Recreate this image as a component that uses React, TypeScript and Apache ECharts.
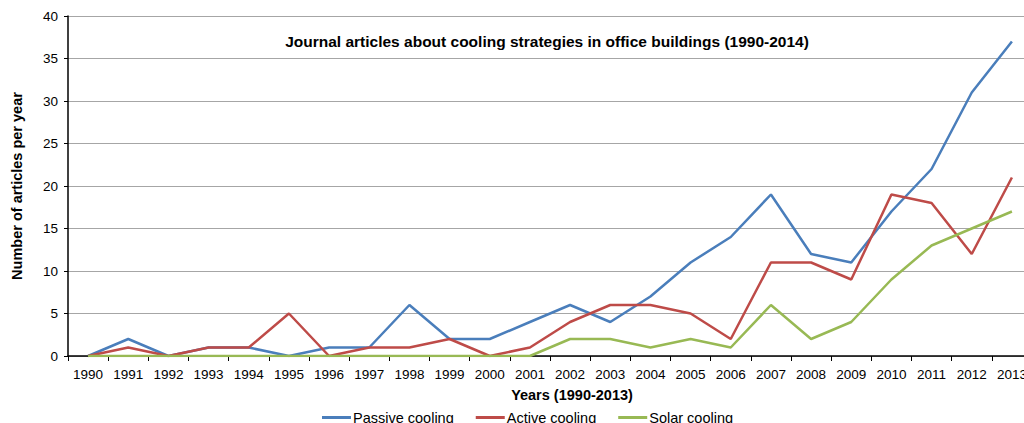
import React, { useEffect, useRef } from "react";
import * as echarts from "echarts";

const years = ["1990","1991","1992","1993","1994","1995","1996","1997","1998","1999","2000","2001","2002","2003","2004","2005","2006","2007","2008","2009","2010","2011","2012","2013"];
const passive = [0,2,0,1,1,0,1,1,6,2,2,4,6,4,7,11,14,19,12,11,17,22,31,37];
const active = [0,1,0,1,1,5,0,1,1,2,0,1,4,6,6,5,2,11,11,9,19,18,12,21];
const solar = [0,0,0,0,0,0,0,0,0,0,0,0,2,2,1,2,1,6,2,4,9,13,15,17];
const yTicks = { min: 0, max: 40, interval: 5 };

const FONT = "'Liberation Sans', Arial, sans-serif";

export default function App() {
  const ref = useRef<HTMLDivElement>(null);
  useEffect(() => {
    if (!ref.current) return;
    const chart = echarts.init(ref.current, undefined, { renderer: "svg" });
    const mk = (name: string, data: number[], color: string) => ({
      name,
      type: "line",
      data,
      symbol: "none",
      lineStyle: { color, width: 2.5 },
      itemStyle: { color },
    });
    chart.setOption({
      animation: false,
      textStyle: { fontFamily: FONT },
      grid: { left: 68, top: 16, height: 340, width: 964, containLabel: false, outerBoundsMode: "none" },
      legend: {
        top: 405,
        left: 317,
        itemWidth: 29,
        itemHeight: 3,
        itemGap: 22,
        icon: "rect",
        textStyle: { fontFamily: FONT, fontSize: 14.5, color: "#000", padding: [0, 0, 0, -3] },
        data: ["Passive cooling", "Active cooling", "Solar cooling"],
      },
      xAxis: {
        type: "category",
        data: years,
        boundaryGap: true,
        axisLine: { lineStyle: { color: "#000", width: 1.5 } },
        axisTick: { show: true, length: 5, lineStyle: { color: "#000" }, alignWithLabel: false },
        axisLabel: { color: "#000", fontSize: 13.5, margin: 11, fontFamily: FONT, interval: 0, hideOverlap: false },
      },
      yAxis: {
        type: "value",
        min: yTicks.min,
        max: yTicks.max,
        interval: yTicks.interval,
        name: "Number of articles per year",
        nameLocation: "middle",
        nameRotate: 90,
        nameGap: 44,
        nameTextStyle: { fontWeight: "bold", fontSize: 14.5, color: "#000", fontFamily: FONT },
        axisLine: { show: true, lineStyle: { color: "#000", width: 1.5 } },
        axisTick: { show: true, length: 4, inside: false, lineStyle: { color: "#000" } },
        axisLabel: { color: "#000", fontSize: 13.5, margin: 10, fontFamily: FONT },
        splitLine: { lineStyle: { color: "#a6a6a6", width: 1 } },
      },
      graphic: [
        {
          type: "text",
          x: 547,
          y: 41,
          style: {
            text: "Journal articles about cooling strategies in office buildings (1990-2014)",
            fontFamily: FONT,
            fontSize: 15.5,
            fontWeight: "bold",
            fill: "#000",
            align: "center",
            verticalAlign: "middle",
          },
        },
        {
          type: "text",
          x: 572,
          y: 395,
          style: {
            text: "Years (1990-2013)",
            fontFamily: FONT,
            fontSize: 14.5,
            fontWeight: "bold",
            fill: "#000",
            align: "center",
            verticalAlign: "middle",
          },
        },
      ],
      series: [
        mk("Passive cooling", passive, "#4a7ebb"),
        mk("Active cooling", active, "#be4b48"),
        mk("Solar cooling", solar, "#98b954"),
      ],
    });
    return () => chart.dispose();
  }, []);
  return (
    <div
      ref={ref}
      style={{ position: "fixed", left: 0, top: 0, width: 1024, height: 423, background: "#fff", overflow: "hidden" }}
    />
  );
}
